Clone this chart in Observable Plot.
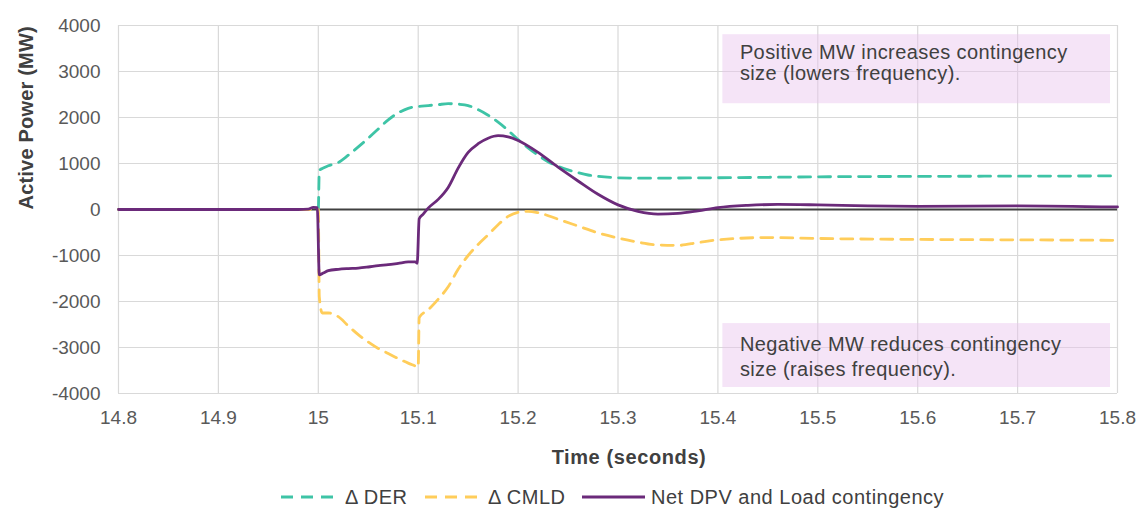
<!DOCTYPE html>
<html>
<head>
<meta charset="utf-8">
<script src="https://cdn.jsdelivr.net/npm/d3@7"></script>
<script src="https://cdn.jsdelivr.net/npm/@observablehq/plot@0.6"></script>
<style>
  body { margin: 0; background: #fff; }
  #wrap { position: relative; width: 1140px; height: 510px; font-family: "Liberation Sans", Arial, sans-serif; background: #fff; }
  .leg { position: absolute; top: 484px; height: 26px; line-height: 26px; font-size: 20px; color: #404040; white-space: nowrap; letter-spacing: 0.5px; }
  .leg svg { position: absolute; top: 0; }
  .note text { letter-spacing: 0.4px; }
  .xtitle text { letter-spacing: 0.6px; }
  .ytitle text { letter-spacing: 0.2px; }
</style>
</head>
<body>
<div id="wrap">
  <div id="chart"></div>
</div>
<script>
// ---- data ----
const xTicks = [14.8, 14.9, 15.0, 15.1, 15.2, 15.3, 15.4, 15.5, 15.6, 15.7, 15.8];
const yTicks = [-4000, -3000, -2000, -1000, 0, 1000, 2000, 3000, 4000];

const seriesNames = ["\u0394 DER", "\u0394 CMLD", "Net DPV and Load contingency"];
const seriesColors = ["#3ec4a6", "#ffcd5a", "#6b2a7a"];

const tDer = [14.8, 14.9, 14.99, 15.0, 15.001, 15.005, 15.01, 15.02, 15.03, 15.04, 15.05, 15.06, 15.07, 15.08, 15.09, 15.1, 15.11, 15.12, 15.13, 15.14, 15.15, 15.16, 15.17, 15.18, 15.19, 15.2, 15.21, 15.22, 15.23, 15.24, 15.25, 15.26, 15.27, 15.28, 15.3, 15.33, 15.36, 15.4, 15.5, 15.6, 15.7, 15.8];
const der  = [0, 0, 0, 0, 850, 900, 950, 1020, 1180, 1360, 1550, 1750, 1950, 2100, 2200, 2240, 2260, 2280, 2300, 2290, 2260, 2170, 2050, 1900, 1720, 1520, 1340, 1180, 1040, 940, 860, 800, 750, 720, 690, 680, 685, 690, 710, 720, 725, 730];

const tCmld = [14.8, 14.9, 15.0, 15.001, 15.004, 15.01, 15.02, 15.03, 15.04, 15.05, 15.06, 15.07, 15.08, 15.09, 15.099, 15.1, 15.101, 15.11, 15.12, 15.13, 15.14, 15.15, 15.16, 15.17, 15.18, 15.19, 15.2, 15.21, 15.22, 15.24, 15.26, 15.28, 15.3, 15.32, 15.34, 15.36, 15.38, 15.4, 15.45, 15.5, 15.6, 15.7, 15.8];
const cmld  = [0, 0, 0, -1900, -2250, -2250, -2330, -2530, -2720, -2880, -3020, -3130, -3240, -3340, -3420, -3430, -2350, -2180, -1950, -1680, -1300, -1000, -760, -550, -330, -150, -60, -40, -70, -210, -360, -510, -620, -710, -770, -780, -720, -660, -610, -630, -650, -660, -670];

const tNet = [14.8, 14.9, 14.98, 14.99, 14.995, 14.999, 15.001, 15.005, 15.01, 15.02, 15.03, 15.04, 15.05, 15.06, 15.07, 15.08, 15.09, 15.097, 15.099, 15.101, 15.105, 15.11, 15.12, 15.13, 15.14, 15.15, 15.16, 15.17, 15.18, 15.19, 15.2, 15.22, 15.24, 15.26, 15.28, 15.3, 15.32, 15.34, 15.36, 15.38, 15.4, 15.43, 15.46, 15.5, 15.55, 15.6, 15.7, 15.8];
const net  = [0, 0, 0, 10, 45, 40, -1420, -1380, -1330, -1300, -1285, -1275, -1250, -1220, -1200, -1170, -1140, -1140, -1170, -200, -100, 30, 220, 480, 900, 1240, 1430, 1550, 1605, 1580, 1500, 1240, 920, 620, 330, 100, -40, -100, -85, -30, 40, 90, 110, 100, 80, 70, 80, 55];

// annotation boxes (data space)
const noteBoxes = [
  {x1: 15.405, x2: 15.793, y1: 2300, y2: 3800},
  {x1: 15.405, x2: 15.793, y1: -3870, y2: -2480}
];
const noteLines = [
  {x: 15.422, y: 3410, text: "Positive MW increases contingency"},
  {x: 15.422, y: 2950, text: "size (lowers frequency)."},
  {x: 15.422, y: -2930, text: "Negative MW reduces contingency"},
  {x: 15.422, y: -3480, text: "size (raises frequency)."}
];
const xTitle = "Time (seconds)";
const yTitle = "Active Power (MW)";

// ---- build ----
const derRows = tDer.map((t, i) => ({t, v: der[i]}));
const cmldRows = tCmld.map((t, i) => ({t, v: cmld[i]}));
const netRows = tNet.map((t, i) => ({t, v: net[i]}));

const chart = Plot.plot({
  width: 1140,
  height: 470,
  marginLeft: 118,
  marginRight: 23,
  marginTop: 25,
  marginBottom: 77,
  style: {fontFamily: "'Liberation Sans', Arial, sans-serif", fontSize: "19px", color: "#595959", background: "white"},
  x: {domain: [14.8, 15.8]},
  y: {domain: [-4000, 4000]},
  marks: [
    Plot.gridX(xTicks, {stroke: "#d9d9d9", strokeOpacity: 1, strokeWidth: 1.2}),
    Plot.gridY(yTicks, {stroke: "#d9d9d9", strokeOpacity: 1, strokeWidth: 1.2}),
    Plot.ruleY([0], {stroke: "#404040", strokeWidth: 2.2}),
    Plot.line(derRows, {x: "t", y: "v", stroke: seriesColors[0], strokeWidth: 2.8, strokeDasharray: "12,8", curve: "monotone-x"}),
    Plot.line(cmldRows, {x: "t", y: "v", stroke: seriesColors[1], strokeWidth: 2.8, strokeDasharray: "12,8", curve: "monotone-x"}),
    Plot.line(netRows, {x: "t", y: "v", stroke: seriesColors[2], strokeWidth: 2.8, curve: "monotone-x"}),
    Plot.rect(noteBoxes, {x1: "x1", x2: "x2", y1: "y1", y2: "y2", fill: "#e8c4ee", fillOpacity: 0.45}),
    Plot.text(noteLines, {x: "x", y: "y", text: "text", textAnchor: "start", fontSize: 20, fill: "#404040", className: "note"}),
    Plot.axisX({ticks: xTicks, tickSize: 0, tickPadding: 17, label: null, tickFormat: d => String(+d.toFixed(1)), fill: "#595959"}),
    Plot.axisY({ticks: yTicks, tickSize: 0, tickPadding: 18, label: null, tickFormat: d => String(d), fill: "#595959"}),
    Plot.text([xTitle], {frameAnchor: "bottom", dx: 11, dy: 70, fontWeight: "bold", fontSize: 20, fill: "#404040", className: "xtitle"}),
    Plot.text([yTitle], {frameAnchor: "left", dx: -92, rotate: -90, fontWeight: "bold", fontSize: 20, fill: "#404040", className: "ytitle"})
  ]
});
document.getElementById("chart").appendChild(chart);

// ---- legend ----
const wrap = document.getElementById("wrap");
const legendItems = [
  {left: 281, sw: 60, text: 345, dash: "12,8"},
  {left: 425, sw: 60, text: 488, dash: "12,8"},
  {left: 582, sw: 63, text: 651, dash: null}
];
legendItems.forEach((it, i) => {
  const sample = document.createElement("div");
  sample.className = "leg";
  sample.style.left = it.left + "px";
  sample.style.width = it.sw + "px";
  sample.innerHTML = `<svg width="${it.sw}" height="26"><line x1="0" x2="${it.sw}" y1="13" y2="13" stroke="${seriesColors[i]}" stroke-width="3"${it.dash ? ` stroke-dasharray="${it.dash}"` : ""}/></svg>`;
  wrap.appendChild(sample);
  const label = document.createElement("div");
  label.className = "leg";
  label.style.left = it.text + "px";
  label.textContent = seriesNames[i];
  wrap.appendChild(label);
});
</script>
</body>
</html>
